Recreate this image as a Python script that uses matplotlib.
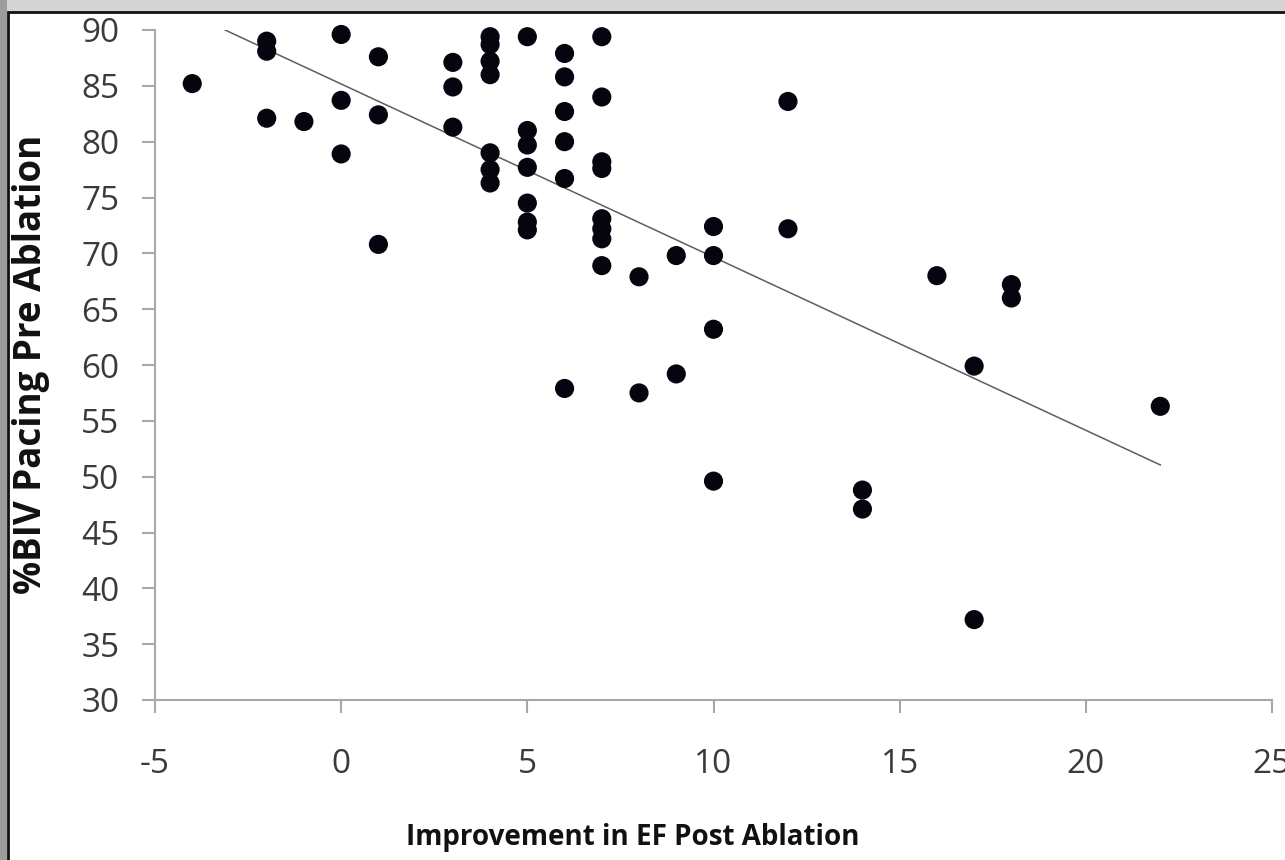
import numpy as np
import matplotlib
matplotlib.use("Agg")
import matplotlib.pyplot as plt
from matplotlib.patches import Rectangle

plt.rcParams["axes.unicode_minus"] = False

# Data
ef_improvement = [-4,
                  -2, -2, -2,
                  -1,
                  0, 0, 0,
                  1, 1, 1,
                  3, 3, 3,
                  4, 4, 4, 4, 4, 4, 4,
                  5, 5, 5, 5, 5, 5, 5,
                  6, 6, 6, 6, 6, 6,
                  7, 7, 7, 7, 7, 7, 7, 7,
                  8, 8,
                  9, 9,
                  10, 10, 10, 10,
                  12, 12,
                  14, 14,
                  16,
                  17, 17,
                  18, 18,
                  22]
biv_pacing = [85.2,
              89.0, 88.1, 82.1,
              81.8,
              89.6, 83.7, 78.9,
              87.6, 82.4, 70.8,
              87.1, 84.9, 81.3,
              89.4, 88.7, 87.2, 86.0, 79.0, 77.5, 76.3,
              89.4, 81.0, 79.7, 77.7, 74.5, 72.8, 72.1,
              87.9, 85.8, 82.7, 80.0, 76.7, 57.9,
              89.4, 84.0, 78.2, 77.6, 73.1, 72.2, 71.3, 68.9,
              67.9, 57.5,
              69.8, 59.2,
              72.4, 69.8, 63.2, 49.6,
              83.6, 72.2,
              48.8, 47.1,
              68.0,
              59.9, 37.2,
              67.2, 66.0,
              56.3]
x_ticks = [-5, 0, 5, 10, 15, 20, 25]
y_ticks = [30, 35, 40, 45, 50, 55, 60, 65, 70, 75, 80, 85, 90]
x_label = "Improvement in EF Post Ablation"
y_label = "%BIV Pacing Pre Ablation"

W, H = 1285, 860
fig = plt.figure(figsize=(W / 100, H / 100), dpi=100)
fig.patch.set_facecolor("#d4d4d4")
# darker strip on the left of the frame
fig.patches.append(Rectangle((0, 0), 7 / W, 1, transform=fig.transFigure,
                             facecolor="#9c9c9c", edgecolor="none", zorder=-11))
# white chart area with black frame line
fig.patches.append(Rectangle((8 / W, -0.01), 1.02, 1 - 12 / H + 0.01,
                             transform=fig.transFigure, facecolor="white",
                             edgecolor="#111111", linewidth=2.0, zorder=-10))

ax_l, ax_r = 155 / W, 1272 / W
ax_b, ax_t = 1 - 700 / H, 1 - 30 / H
ax = fig.add_axes([ax_l, ax_b, ax_r - ax_l, ax_t - ax_b])
ax.set_facecolor("none")
ax.set_zorder(5)

x = np.array(ef_improvement, dtype=float)
y = np.array(biv_pacing, dtype=float)
ax.scatter(x, y, s=190, color="#05050f", edgecolors="none", zorder=3, clip_on=False)

# Linear trendline
slope, intercept = np.polyfit(x, y, 1)
xs = np.array([x.min(), x.max()])
ax.plot(xs, slope * xs + intercept, color="#5e5e5e", linewidth=1.1, zorder=2)

ax.set_xlim(-5, 25)
ax.set_ylim(30, 90)
ax.set_xticks(x_ticks)
ax.set_yticks(y_ticks)

for s in ["top", "right"]:
    ax.spines[s].set_visible(False)
for s in ["left", "bottom"]:
    ax.spines[s].set_color("#a8a8a8")
    ax.spines[s].set_linewidth(1.5)

ax.tick_params(axis="both", direction="out", length=9.5, width=1.5,
               color="#a8a8a8", labelcolor="#3a3a3a")
ax.tick_params(axis="y", pad=16)
ax.tick_params(axis="x", pad=25)
for lab in ax.get_xticklabels() + ax.get_yticklabels():
    lab.set_fontfamily(["Open Sans", "DejaVu Sans"])
    lab.set_fontsize(24)

fig.text(633 / W, 1 - 838 / H, x_label, ha="center", va="center",
         fontsize=20, fontweight="bold", family=["Open Sans", "DejaVu Sans"],
         color="#111111")
fig.text(31 / W, 1 - 364 / H, y_label, ha="center", va="center", rotation=90,
         fontsize=26.5, fontweight="bold", family=["Open Sans", "DejaVu Sans"],
         color="#111111")

fig.savefig("out.png", dpi=100, facecolor=fig.get_facecolor())
